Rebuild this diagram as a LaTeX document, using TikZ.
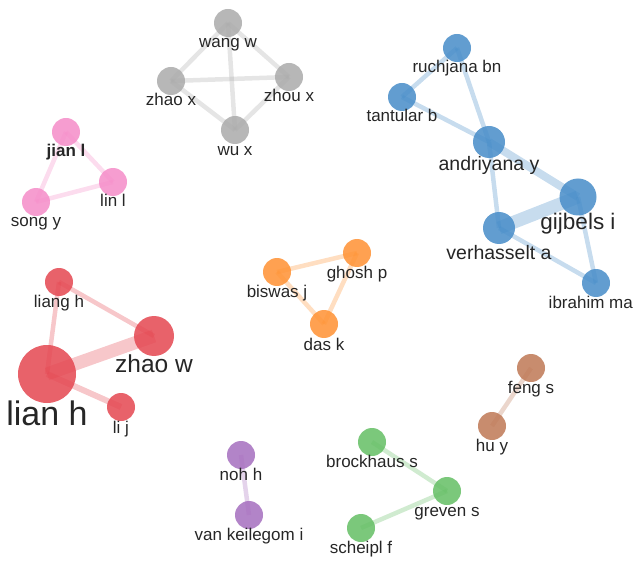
\documentclass[tikz,border=0pt]{standalone}
\usepackage{fontspec}
\setmainfont{Liberation Sans}
\usetikzlibrary{calc}
\pgfdeclarelayer{edges}
\pgfsetlayers{edges,main}

% community colours
\definecolor{cblue}{RGB}{70,140,200}
\definecolor{cred}{RGB}{228,70,80}
\definecolor{corange}{RGB}{255,145,50}
\definecolor{cgreen}{RGB}{100,190,100}
\definecolor{cpurple}{RGB}{165,110,190}
\definecolor{cbrown}{RGB}{190,120,85}
\definecolor{cpink}{RGB}{245,140,200}
\definecolor{cgray}{RGB}{170,170,170}

% #1 name, #2 x, #3 y, #4 radius, #5 colour, #6 font size, #7 label baseline, #8 text
\newcommand{\member}[8]{%
  \node[dot, fill=#5, minimum size=2*#4] (#1) at (#2,#3) {};
  \node[lab, font=\fontsize{#6}{#6}\selectfont] (#1-l) at (#2,#7) {#8};
}
% #1 colour, #2 from, #3 to, #4 width
\newcommand{\tie}[4]{%
  \draw[line width=#4, draw=#1, draw opacity=0.3] (#2.center) -- (#3.center);
}

\begin{document}
\begin{tikzpicture}[x=1pt, y=-1pt,
  dot/.style={circle, draw=none, fill opacity=0.85, inner sep=0pt},
  lab/.style={anchor=base, inner sep=0pt, text=black!85}]
\clip (0,0) rectangle (634,561);

% gray group
\member{wangw}{228}{23}{14}{cgray}{17}{48}{wang w}
\member{zhaox}{171}{81}{14}{cgray}{17}{106}{zhao x}
\member{zhoux}{289}{77}{14}{cgray}{17}{102}{zhou x}
\member{wux}{235}{130}{14}{cgray}{17}{156}{wu x}

% pink group
\member{jianl}{66}{132}{14}{cpink}{17}{157}{\textbf{jian l}}
\member{linl}{113}{182}{14}{cpink}{17}{207}{lin l}
\member{songy}{36}{202}{14}{cpink}{17}{227}{song y}

% blue group
\member{ruchjana}{457}{48}{14}{cblue}{17}{73}{ruchjana bn}
\member{tantular}{402}{97}{14}{cblue}{17}{122}{tantular b}
\member{andriyana}{489}{142}{16}{cblue}{19.5}{171}{andriyana y}
\member{gijbels}{578}{197}{18.5}{cblue}{22.5}{230}{gijbels i}
\member{verhasselt}{499}{228}{16}{cblue}{19.5}{259}{verhasselt a}
\node[dot, fill=cblue, minimum size=28] (ibrahim) at (596,283) {};
\node[lab, anchor=base east, font=\fontsize{17}{17}\selectfont] (ibrahim-l) at (633,308) {ibrahim ma};

% red group
\member{liangh}{59}{282}{14}{cred}{17}{307}{liang h}
\member{zhaow}{154}{336}{20}{cred}{24.5}{372}{zhao w}
\member{lianh}{47}{374}{29}{cred}{34}{425}{lian h}
\member{lij}{121}{407}{14}{cred}{17}{433}{li j}

% orange group
\member{biswas}{277}{272}{14}{corange}{17}{297}{biswas j}
\member{ghosh}{357}{253}{14}{corange}{17}{278}{ghosh p}
\member{das}{324}{324}{14}{corange}{17}{350}{das k}

% purple group
\member{noh}{241}{455}{14}{cpurple}{17}{480}{noh h}
\member{keilegom}{249}{515}{14}{cpurple}{17}{540}{van keilegom i}

% green group
\member{brockhaus}{372}{442}{14}{cgreen}{17}{467}{brockhaus s}
\member{greven}{447}{491}{14}{cgreen}{17}{516}{greven s}
\member{scheipl}{361}{528}{14}{cgreen}{17}{553}{scheipl f}

% brown group
\member{feng}{531}{368}{14}{cbrown}{17}{393}{feng s}
\member{hu}{492}{426}{14}{cbrown}{17}{451}{hu y}

\begin{pgfonlayer}{edges}
  \tie{cgray}{wangw}{zhaox}{4.5}
  \tie{cgray}{wangw}{zhoux}{4.5}
  \tie{cgray}{wangw}{wux}{4.5}
  \tie{cgray}{zhaox}{zhoux}{4.5}
  \tie{cgray}{zhaox}{wux}{4.5}
  \tie{cgray}{zhoux}{wux}{4.5}

  \tie{cpink}{jianl}{linl}{4.5}
  \tie{cpink}{jianl}{songy}{4.5}
  \tie{cpink}{songy}{linl}{4.5}

  \tie{cblue}{ruchjana}{tantular}{4.5}
  \tie{cblue}{ruchjana}{andriyana}{4.5}
  \tie{cblue}{tantular}{andriyana}{4.5}
  \tie{cblue}{andriyana}{gijbels}{8}
  \tie{cblue}{andriyana}{verhasselt}{4.5}
  \tie{cblue}{gijbels}{verhasselt}{13}
  \tie{cblue}{verhasselt}{ibrahim}{4.5}
  \tie{cblue}{gijbels}{ibrahim}{4.5}

  \tie{cred}{liangh}{zhaow}{4.5}
  \tie{cred}{liangh}{lianh}{4.5}
  \tie{cred}{lianh}{zhaow}{13}
  \tie{cred}{lianh}{lij}{6}

  \tie{corange}{biswas}{ghosh}{4.5}
  \tie{corange}{biswas}{das}{4.5}
  \tie{corange}{ghosh}{das}{4.5}

  \tie{cpurple}{noh}{keilegom}{4.5}

  \tie{cgreen}{brockhaus}{greven}{4.5}
  \tie{cgreen}{greven}{scheipl}{4.5}

  \tie{cbrown}{feng}{hu}{4.5}
\end{pgfonlayer}
\end{tikzpicture}
\end{document}
